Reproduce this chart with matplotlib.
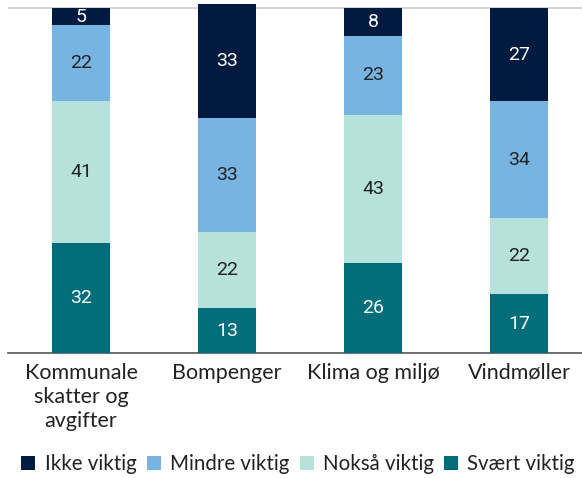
import numpy as np
import matplotlib.pyplot as plt

# kategorier og verdier (nederst til øverst)
kategorier = ['Kommunale\nskatter og\navgifter', 'Bompenger', 'Klima og miljø', 'Vindmøller']
svaert = [32, 13, 26, 17]
noksa = [41, 22, 43, 22]
mindre = [22, 33, 23, 34]
ikke = [5, 33, 8, 27]

serier = [
    ('Svært viktig', svaert, '#006d7a', 'white'),
    ('Nokså viktig', noksa, '#b6e2db', '#222222'),
    ('Mindre viktig', mindre, '#78b4e2', '#222222'),
    ('Ikke viktig', ikke, '#001a40', 'white'),
]

plt.rcParams['font.family'] = ['Roboto', 'DejaVu Sans']

fig = plt.figure(figsize=(5.82, 4.78), dpi=100)
ax = fig.add_axes([8/582, 1 - 353/478, 574/582, 353/478])

x = np.arange(len(kategorier))
bunn = np.zeros(len(kategorier))
handles = {}
for navn, vals, farge, tfarge in serier:
    vals = np.array(vals)
    b = ax.bar(x, vals, 0.4, bottom=bunn, color=farge, zorder=3)
    handles[navn] = b
    for xi, v, bo in zip(x, vals, bunn):
        ax.text(xi, bo + v / 2, str(v), ha='center', va='center', color=tfarge,
                fontsize=14, zorder=4)
    bunn += vals

ax.set_xlim(-0.5, 3.43)
ax.set_ylim(0, 102.3)
ax.axhline(100, color='#cccccc', lw=1.2, zorder=1)
for s in ['top', 'right', 'left']:
    ax.spines[s].set_visible(False)
ax.spines['bottom'].set_color('#555555')
ax.spines['bottom'].set_linewidth(1.2)
ax.set_yticks([])
ax.set_xticks(x)
ax.set_xticklabels(kategorier, fontsize=15.5, color='#222222', family=['Lato', 'DejaVu Sans'],
                   linespacing=1.25)
ax.tick_params(axis='x', length=0, pad=7)

rekkefolge = ['Ikke viktig', 'Mindre viktig', 'Nokså viktig', 'Svært viktig']
leg = fig.legend([handles[n] for n in rekkefolge], rekkefolge, loc='lower left',
                 bbox_to_anchor=(0.005, -0.03), ncol=4, frameon=False,
                 prop={'family': ['Lato', 'DejaVu Sans'], 'size': 14.8},
                 handlelength=0.68, handleheight=0.68, handletextpad=0.45, columnspacing=0.5)
for t in leg.get_texts():
    t.set_color('#222222')

fig.savefig('out.png', dpi=100)
